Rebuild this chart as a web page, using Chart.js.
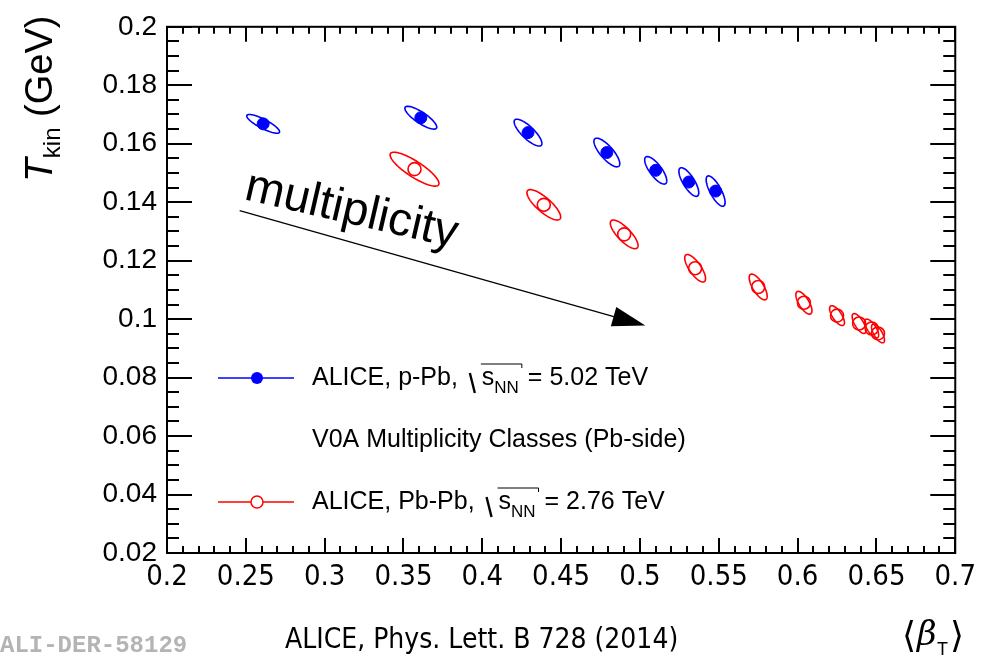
<!DOCTYPE html>
<html>
<head>
<meta charset="utf-8">
<script src="https://cdn.jsdelivr.net/npm/chart.js@4/dist/chart.umd.min.js"></script>
<style>
  html, body { margin: 0; padding: 0; background: #fff; }
  #wrap { width: 983px; height: 659px; }
</style>
</head>
<body>
<div id="wrap"><canvas id="myChart" width="983" height="659"></canvas></div>
<script>
// p-Pb 5.02 TeV, V0A multiplicity classes
const ppbBeta = [0.261, 0.361, 0.429, 0.479, 0.510, 0.531, 0.548];
const ppbTkin = [0.1668, 0.1689, 0.1638, 0.1570, 0.1509, 0.1469, 0.1438];
const ppbBetaErr = [0.0104, 0.0101, 0.0088, 0.0082, 0.0070, 0.0063, 0.0060];
const ppbTkinErr = [0.0032, 0.0039, 0.0046, 0.0049, 0.0047, 0.0049, 0.0052];
const ppbCorr = [-0.84, -0.82, -0.80, -0.78, -0.76, -0.75, -0.75];

// Pb-Pb 2.76 TeV, centrality classes
const pbpbBeta = [0.357, 0.439, 0.490, 0.535, 0.575, 0.604, 0.625, 0.639, 0.647, 0.651];
const pbpbTkin = [0.1513, 0.1391, 0.1290, 0.1174, 0.1110, 0.1056, 0.1012, 0.0985, 0.0968, 0.0951];
const pbpbBetaErr = [0.0155, 0.0107, 0.0088, 0.0066, 0.0057, 0.0051, 0.0047, 0.0044, 0.0044, 0.0041];
const pbpbTkinErr = [0.0058, 0.0052, 0.0049, 0.0047, 0.0044, 0.0039, 0.0034, 0.0034, 0.0032, 0.0032];
const pbpbCorr = [-0.84, -0.80, -0.78, -0.75, -0.72, -0.70, -0.70, -0.70, -0.70, -0.70];

const xTicks = [0.2, 0.25, 0.3, 0.35, 0.4, 0.45, 0.5, 0.55, 0.6, 0.65, 0.7];
const yTicks = [0.02, 0.04, 0.06, 0.08, 0.1, 0.12, 0.14, 0.16, 0.18, 0.2];

const SANS = '"Liberation Sans", Arial, Helvetica, sans-serif';
const NARROW = '"Liberation Sans Narrow", "DejaVu Sans Condensed", "Liberation Sans", sans-serif';

function toPoints(xs, ys) {
    return xs.map((x, i) => ({ x: x, y: ys[i] }))
}

// 1-sigma contour around each point
const contourPlugin = {
    id: 'contours',
    beforeDatasetsDraw(chart) {
        const ctx = chart.ctx;
        const xs = chart.scales.x, ys = chart.scales.y;
        ctx.save();
        chart.data.datasets.forEach(ds => {
            ctx.strokeStyle = ds.borderColor;
            ctx.lineWidth = 1.6;
            ds.data.forEach((p, i) => {
                const ex = ds.errX[i], ey = ds.errY[i], r = ds.corr[i];
                const s = Math.sqrt(1 - r * r);
                ctx.beginPath();
                for (let k = 0; k <= 90; k++) {
                    const t = k / 90 * 2 * Math.PI;
                    const px = xs.getPixelForValue(p.x + ex * Math.cos(t));
                    const py = ys.getPixelForValue(p.y + ey * (r * Math.cos(t) + s * Math.sin(t)));
                    if (k === 0) ctx.moveTo(px, py); else ctx.lineTo(px, py);
                }
                ctx.closePath();
                ctx.stroke();
            });
        });
        ctx.restore();
    }
};

// frame with inward ticks on all four sides
const framePlugin = {
    id: 'frame',
    afterDraw(chart) {
        const ctx = chart.ctx;
        const a = chart.chartArea;
        const xs = chart.scales.x, ys = chart.scales.y;
        ctx.save();
        ctx.strokeStyle = '#000';
        ctx.lineWidth = 2;
        ctx.beginPath();
        for (let v = 0.2; v <= 0.7001; v += 0.01) {
            const major = Math.abs(v * 20 - Math.round(v * 20)) < 1e-6;
            const len = major ? 15 : 7;
            const px = Math.round(xs.getPixelForValue(v));
            ctx.moveTo(px, a.bottom); ctx.lineTo(px, a.bottom - len);
            ctx.moveTo(px, a.top); ctx.lineTo(px, a.top + len);
        }
        for (let v = 0.02; v <= 0.2001; v += 0.005) {
            const major = Math.abs(v * 50 - Math.round(v * 50)) < 1e-6;
            const len = major ? 25 : 12;
            const py = Math.round(ys.getPixelForValue(v));
            ctx.moveTo(a.left, py); ctx.lineTo(a.left + len, py);
            ctx.moveTo(a.right, py); ctx.lineTo(a.right - len, py);
        }
        ctx.stroke();
        ctx.strokeRect(a.left, a.top, a.right - a.left, a.bottom - a.top);
        ctx.restore();
    }
};

function drawSqrtS(ctx, x, base, energy) {
    // radical sign with overline, then s_NN = ... TeV
    ctx.lineWidth = 2.4;
    ctx.beginPath();
    ctx.moveTo(x, base - 12); ctx.lineTo(x + 5, base + 8);
    ctx.stroke();
    ctx.lineWidth = 1;
    ctx.beginPath();
    ctx.moveTo(x + 11, base - 21); ctx.lineTo(x + 52, base - 21); ctx.lineTo(x + 52, base - 17);
    ctx.stroke();
    ctx.font = '25px ' + SANS;
    ctx.fillText('s', x + 12, base);
    const sw = ctx.measureText('s').width;
    ctx.font = '17px ' + SANS;
    ctx.fillText('NN', x + 12 + sw, base + 8);
    const nw = ctx.measureText('NN').width;
    ctx.font = '25px ' + SANS;
    ctx.fillText(' = ' + energy, x + 14 + sw + nw, base);
}

// legend, annotations and axis titles
const textPlugin = {
    id: 'texts',
    afterDraw(chart) {
        const ctx = chart.ctx;
        const xs = chart.scales.x, ys = chart.scales.y;
        ctx.save();
        ctx.textBaseline = 'alphabetic';
        ctx.textAlign = 'left';

        // legend rows
        const rows = [
            { y: 378, color: '#0000ff', filled: true, label: 'ALICE, p-Pb, ', energy: '5.02 TeV' },
            { y: 502, color: '#ff0000', filled: false, label: 'ALICE, Pb-Pb, ', energy: '2.76 TeV' }
        ];
        rows.forEach(r => {
            ctx.strokeStyle = r.color;
            ctx.fillStyle = r.color;
            ctx.lineWidth = 1.5;
            ctx.beginPath();
            ctx.moveTo(218, r.y); ctx.lineTo(294, r.y);
            ctx.stroke();
            ctx.beginPath();
            ctx.arc(257, r.y, 6, 0, 2 * Math.PI);
            if (r.filled) ctx.fill();
            else { ctx.fillStyle = '#fff'; ctx.fill(); ctx.stroke(); }
            ctx.fillStyle = '#000';
            ctx.strokeStyle = '#000';
            ctx.font = '25px ' + SANS;
            ctx.fillText(r.label, 312, r.y + 7);
            const w = ctx.measureText(r.label).width;
            drawSqrtS(ctx, 312 + w + 5, r.y + 7, r.energy);
        });
        ctx.font = '25px ' + SANS;
        ctx.fillText('V0A Multiplicity Classes (Pb-side)', 312, 447);

        // multiplicity arrow
        const x0 = xs.getPixelForValue(0.2461), y0 = ys.getPixelForValue(0.1371);
        const x1 = xs.getPixelForValue(0.5034), y1 = ys.getPixelForValue(0.0978);
        const ang = Math.atan2(y1 - y0, x1 - x0);
        ctx.lineWidth = 1.2;
        ctx.beginPath();
        ctx.moveTo(x0, y0);
        ctx.lineTo(x1 - 30 * Math.cos(ang), y1 - 30 * Math.sin(ang));
        ctx.stroke();
        ctx.beginPath();
        ctx.moveTo(x1, y1);
        ctx.lineTo(x1 - 33 * Math.cos(ang) - 10 * Math.sin(ang), y1 - 33 * Math.sin(ang) + 10 * Math.cos(ang));
        ctx.lineTo(x1 - 33 * Math.cos(ang) + 10 * Math.sin(ang), y1 - 33 * Math.sin(ang) - 10 * Math.cos(ang));
        ctx.closePath();
        ctx.fill();

        ctx.save();
        ctx.translate(243, 199);
        ctx.rotate(13 * Math.PI / 180);
        ctx.font = '47px ' + SANS;
        ctx.fillText('multiplicity', 0, 0);
        ctx.restore();

        // y title: T_kin (GeV)
        ctx.save();
        ctx.translate(52, 182);
        ctx.rotate(-Math.PI / 2);
        ctx.font = 'italic 39px ' + SANS;
        ctx.fillText('T', 0, 0);
        let off = ctx.measureText('T').width;
        ctx.font = '24px ' + SANS;
        ctx.fillText('kin', off, 8);
        off += ctx.measureText('kin').width;
        ctx.font = '38px ' + SANS;
        ctx.fillText(' (GeV)', off, 0);
        ctx.restore();

        // x title: <beta_T>
        ctx.font = '36px "DejaVu Sans", sans-serif';
        ctx.fillText('\u27E8', 902, 647);
        ctx.font = 'italic 34px "DejaVu Serif", serif';
        ctx.fillText('\u03B2', 917, 645);
        ctx.font = '18px ' + SANS;
        ctx.fillText('T', 937, 655);
        ctx.font = '36px "DejaVu Sans", sans-serif';
        ctx.fillText('\u27E9', 950, 647);

        // reference and figure id
        ctx.font = '28px ' + NARROW;
        ctx.fillText('ALICE, Phys. Lett. B 728 (2014)', 285, 648);
        ctx.fillStyle = '#b4b4b4';
        ctx.font = 'bold 24px "Liberation Mono", monospace';
        ctx.fillText('ALI-DER-58129', 0, 652);
        ctx.restore();
    }
};

function buildChart() {
    const ctx = document.getElementById('myChart');
    new Chart(ctx, {
        type: 'scatter',
        data: {
            datasets: [{
                label: 'ALICE, p-Pb',
                data: toPoints(ppbBeta, ppbTkin),
                errX: ppbBetaErr,
                errY: ppbTkinErr,
                corr: ppbCorr,
                borderColor: '#0000ff',
                backgroundColor: '#0000ff',
                pointRadius: 6,
                pointBorderWidth: 1
            }, {
                label: 'ALICE, Pb-Pb',
                data: toPoints(pbpbBeta, pbpbTkin),
                errX: pbpbBetaErr,
                errY: pbpbTkinErr,
                corr: pbpbCorr,
                borderColor: '#ff0000',
                backgroundColor: 'rgba(0,0,0,0)',
                pointRadius: 6.5,
                pointBorderWidth: 1.6
            }]
        },
        options: {
            responsive: false,
            animation: false,
            devicePixelRatio: 1,
            layout: { padding: { top: 21, right: 25, left: 0, bottom: 0 } },
            plugins: {
                legend: { display: false },
                tooltip: { enabled: false }
            },
            scales: {
                x: {
                    type: 'linear',
                    min: 0.2,
                    max: 0.7,
                    afterFit: s => { s.height = 106 },
                    afterBuildTicks: s => { s.ticks = xTicks.map(v => ({ value: v })) },
                    grid: { display: false, drawTicks: false },
                    border: { display: false },
                    ticks: {
                        padding: 7,
                        color: '#000',
                        font: { family: NARROW, size: 29 },
                        maxRotation: 0,
                        autoSkip: false,
                        callback: v => String(+v.toFixed(3))
                    }
                },
                y: {
                    type: 'linear',
                    min: 0.02,
                    max: 0.2,
                    afterFit: s => { s.width = 167 },
                    afterBuildTicks: s => { s.ticks = yTicks.map(v => ({ value: v })) },
                    grid: { display: false, drawTicks: false },
                    border: { display: false },
                    ticks: {
                        padding: 10,
                        color: '#000',
                        font: { family: SANS, size: 28 },
                        autoSkip: false,
                        callback: v => String(+v.toFixed(3))
                    }
                }
            }
        },
        plugins: [contourPlugin, framePlugin, textPlugin]
    });
}

buildChart()
</script>
</body>
</html>
